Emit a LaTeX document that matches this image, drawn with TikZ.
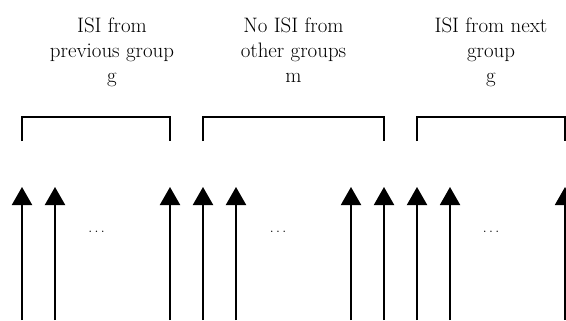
\documentclass[tikz,border=0pt]{standalone}
\usepackage{amsmath}
\usepackage{tikz}
\usetikzlibrary{arrows.meta}

\begin{document}
\begin{tikzpicture}[x=1bp,y=1bp,
		lbl/.style={align=center, anchor=base, inner sep=0pt, font=\fontsize{21}{25}\selectfont},
		grp/.style={line width=2bp},
		isiarrow/.style={line width=2bp, -{Triangle[length=18bp,width=20bp]}},
		dots/.style={inner sep=0pt, font=\fontsize{14}{16}\selectfont}]

		\useasboundingbox (0,0) rectangle (566,320);

		% group labels
		\node [lbl] (prevlbl) at (112,238) {ISI from\\previous group\\g};
		\node [lbl] (otherlbl) at (293.5,238) {No ISI from\\other groups\\m};
		\node [lbl] (nextlbl) at (491,238) {ISI from next\\group\\g};

		% brackets
		\draw [grp] (22,179) -- (22,203) -- (170,203) -- (170,179);
		\draw [grp] (203,179) -- (203,203) -- (384,203) -- (384,179);
		\draw [grp] (417,179) -- (417,203) -- (565,203) -- (565,179);

		% arrows
		\foreach \p in {22,55,170,203,236,351,384,417,450,565}{
				\draw [isiarrow] (\p,0) -- (\p,133);
			}

		\node [dots] (dotsa) at (96.5,88) {$\ldots$};
		\node [dots] (dotsb) at (278,88) {$\ldots$};
		\node [dots] (dotsc) at (491,88) {$\ldots$};

		\end{tikzpicture}
\end{document}
